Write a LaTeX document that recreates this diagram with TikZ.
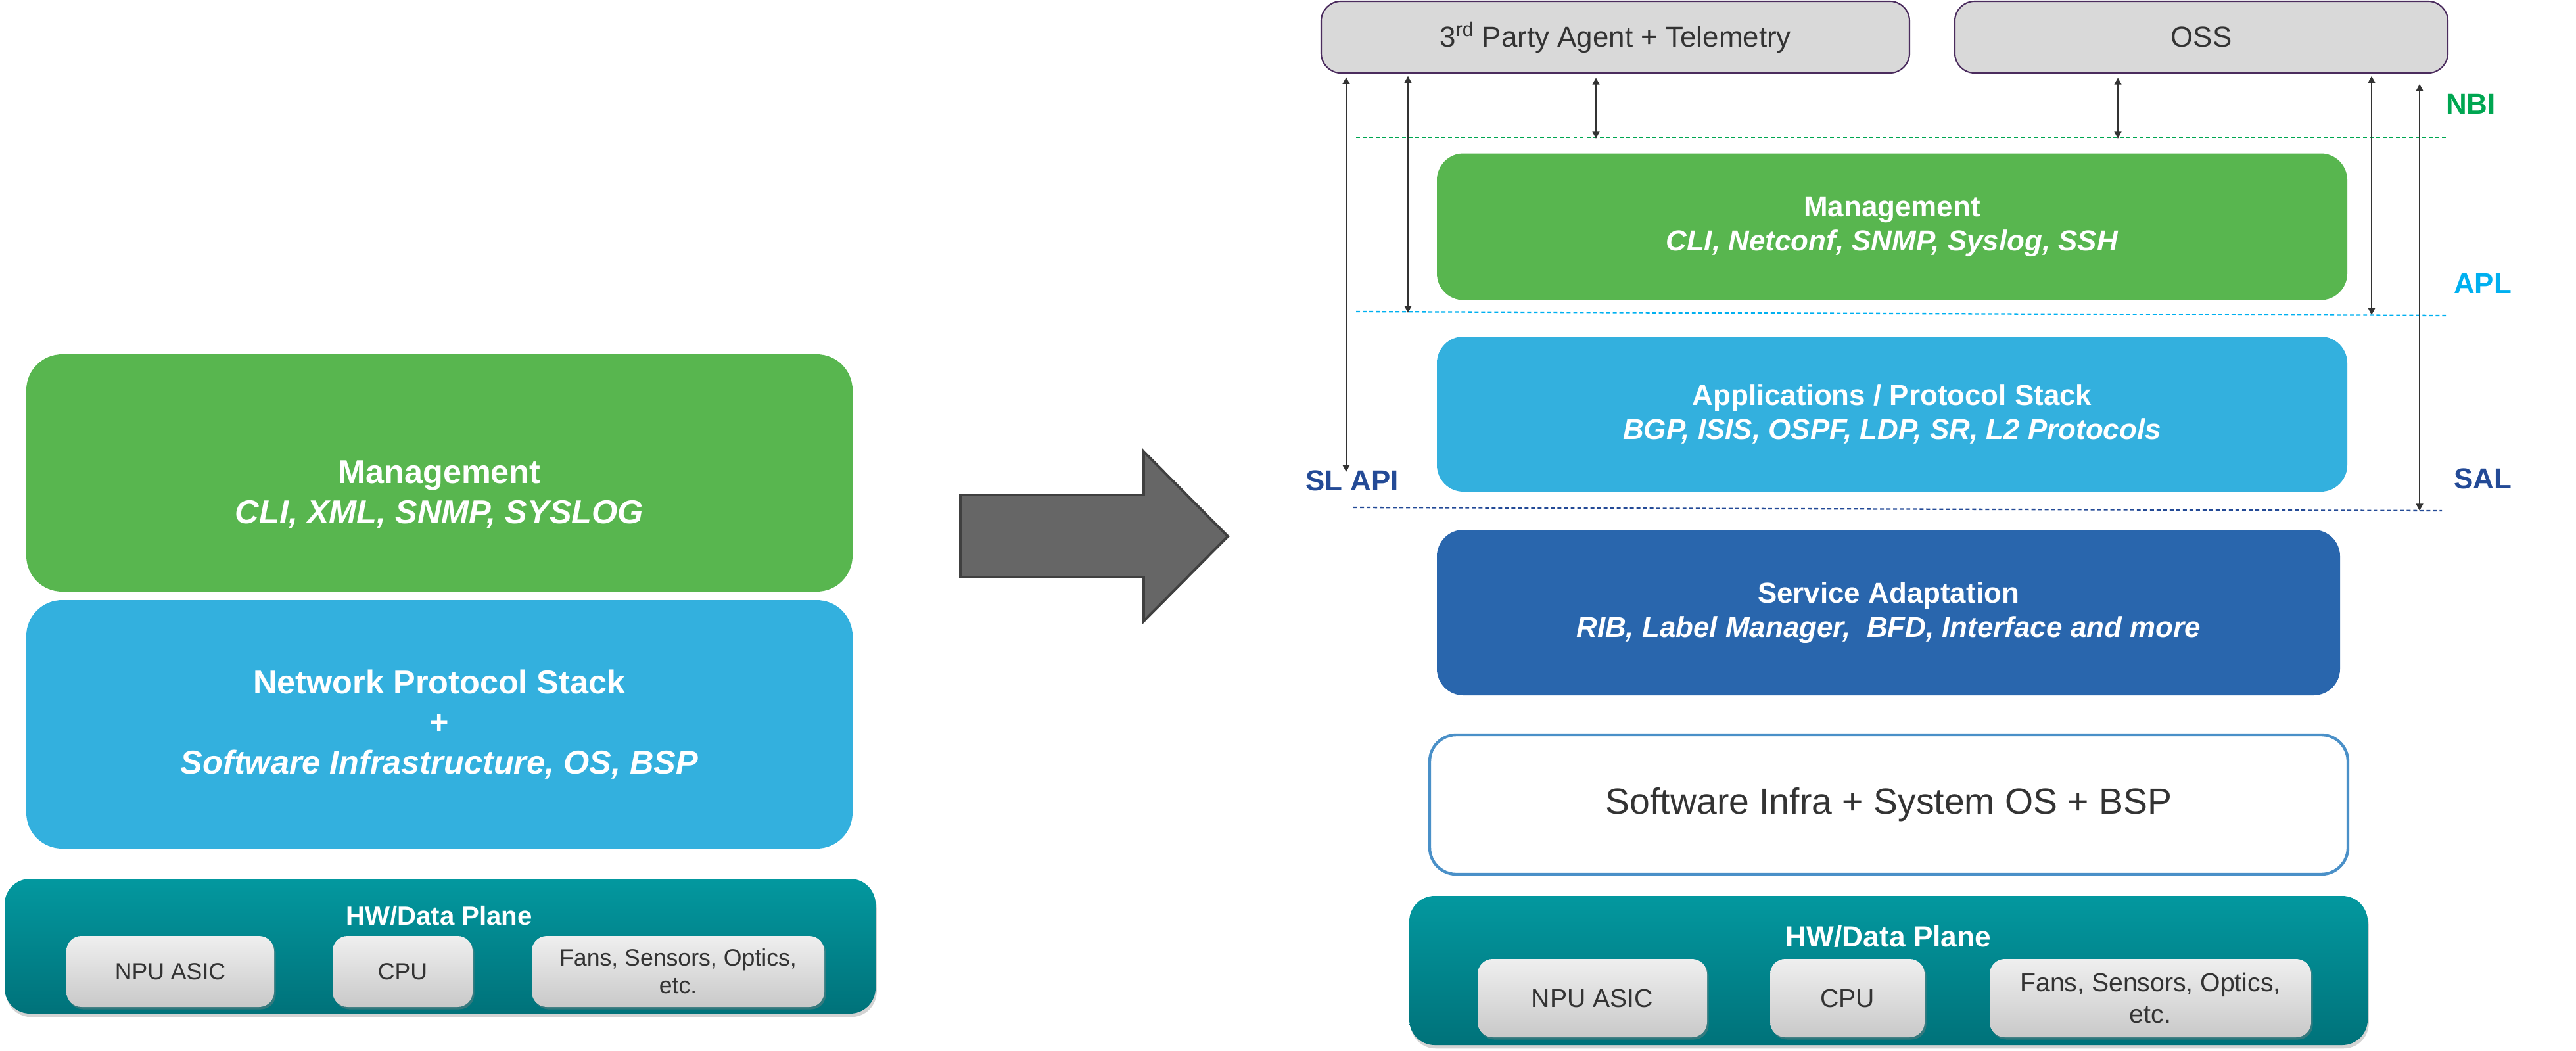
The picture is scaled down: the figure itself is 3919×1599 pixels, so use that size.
\documentclass[tikz,border=0pt]{standalone}
\usepackage{fontspec}
\setmainfont{Liberation Sans}
\usetikzlibrary{arrows.meta, shadows}

\begin{document}
\begin{tikzpicture}[
    x=0.02cm, y=-0.02cm,
    every node/.style={inner sep=0pt},
]

% ---------------------------------------------------------------- colours
\definecolor{mgmtgreen}{HTML}{58B64F}   % management layer
\definecolor{stackblue}{HTML}{33B0DE}   % protocol stack layer
\definecolor{adaptblue}{HTML}{2966AD}   % service adaptation
\definecolor{tealtop}{HTML}{03989F}
\definecolor{tealbot}{HTML}{00727A}
\definecolor{chiptop}{HTML}{EFEFEF}
\definecolor{chipbot}{HTML}{C9C9C9}
\definecolor{clientgray}{HTML}{D9D9D9}
\definecolor{clientedge}{HTML}{4B2C5E}
\definecolor{infraedge}{HTML}{4A90C8}
\definecolor{nbigreen}{HTML}{00A651}
\definecolor{aplcyan}{HTML}{00B0F0}
\definecolor{saldark}{HTML}{234A96}
\definecolor{textdark}{HTML}{333333}
\definecolor{arrowgray}{HTML}{666666}
\definecolor{arrowedge}{HTML}{404040}

\tikzset{
    boxsize/.style 2 args={minimum width=#1*0.02cm, minimum height=#2*0.02cm},
    bigfont/.style={font=\fontsize{28.7}{34.6}\selectfont\bfseries},
    midfont/.style={font=\fontsize{25}{30}\selectfont\bfseries},
    layer/.style={align=center, text=white},
    hwplane/.style={rounded corners=22pt, top color=tealtop, bottom color=tealbot,
        text=white, drop shadow={opacity=0.35, shadow xshift=1pt, shadow yshift=-3pt}},
    chip/.style={rounded corners=13pt, top color=chiptop, bottom color=chipbot,
        text=textdark, align=center,
        drop shadow={opacity=0.4, shadow xshift=1.5pt, shadow yshift=-2pt}},
    client/.style={rounded corners=17pt, fill=clientgray, draw=clientedge,
        line width=1.2pt, text=textdark, font=\fontsize{25}{30}\selectfont},
    link/.style={{Triangle[length=6pt, width=6pt]}-{Triangle[length=6pt, width=6pt]},
        line width=1.4pt, textdark},
    level/.style={line width=1.3pt, dash pattern=on 3.4pt off 2.3pt},
    levellabel/.style={font=\fontsize{25}{30}\selectfont\bfseries},
    bigarrow/.style={fill=arrowgray, draw=arrowedge, line width=2.2pt},
}

\useasboundingbox (0,0) rectangle (3919,1599);

% ================================================================
% LEFT: monolithic stack
% ================================================================
\node[boxsize={1257}{361}, fill=mgmtgreen, rounded corners=31pt] (lmgmt)
    at (668.5,719.5) {};
\node[layer, bigfont] (lmgmtText) at ([yshift=-19pt]lmgmt.center)
    {Management\\\textit{CLI, XML, SNMP, SYSLOG}};
\node[layer, bigfont, boxsize={1257}{378}, fill=stackblue, rounded corners=31pt]
    (lstack) at (668.5,1102)
    {Network Protocol Stack\\+\\\textit{Software Infrastructure, OS, BSP}};

\node[hwplane, boxsize={1325}{205}] (lhw) at (669.5,1439.5) {};
\node[text=white, font=\fontsize{22.9}{27}\selectfont\bfseries] (lhwtitle)
    at (668,1393) {HW/Data Plane};
\node[chip, boxsize={316}{108}, font=\fontsize{20.3}{24}\selectfont] (lnpu)
    at (259,1478) {NPU ASIC};
\node[chip, boxsize={213}{108}, font=\fontsize{20.3}{24}\selectfont] (lcpu)
    at (612.5,1478) {CPU};
\node[chip, boxsize={445}{108}, font=\fontsize{20.3}{24}\selectfont] (lfans)
    at (1031.5,1478) {Fans, Sensors, Optics,\\etc.};

% ---------------------------------------------------------------- the big arrow
\draw[bigarrow] (1461,753) -- (1740,753) -- (1740,687) -- (1868,816)
    -- (1740,945) -- (1740,878) -- (1461,878) -- cycle;

% ================================================================
% RIGHT: layered stack with open interfaces
% ================================================================
\node[client, boxsize={895}{109}] (tpa) at (2457.5,56.5)
    {3\textsuperscript{rd} Party Agent + Telemetry};
\node[client, boxsize={750}{109}] (oss) at (3349,56.5) {OSS};

\node[layer, midfont, boxsize={1385}{223}, fill=mgmtgreen, rounded corners=23pt]
    (rmgmt) at (2878.5,345)
    {Management\\\textit{CLI, Netconf, SNMP, Syslog, SSH}};
\node[layer, midfont, boxsize={1385}{236}, fill=stackblue, rounded corners=23pt]
    (rapps) at (2878.5,630)
    {Applications / Protocol Stack\\\textit{BGP, ISIS, OSPF, LDP, SR, L2 Protocols}};
\node[layer, midfont, boxsize={1374}{252}, fill=adaptblue, rounded corners=23pt]
    (rsvc) at (2873,932)
    {Service Adaptation\\\textit{RIB, Label Manager,\ \ BFD, Interface and more}};
\node[boxsize={1397}{212}, draw=infraedge, line width=2.5pt, fill=white,
    rounded corners=23pt, text=textdark, font=\fontsize{31.5}{36}\selectfont]
    (rinfra) at (2873.5,1224) {Software Infra + System OS + BSP};

\node[hwplane, boxsize={1458}{227}] (rhw) at (2873,1476.5) {};
\node[text=white, font=\fontsize{25.2}{30}\selectfont\bfseries] (rhwtitle)
    at (2873,1425) {HW/Data Plane};
\node[chip, boxsize={349}{119}, font=\fontsize{22.3}{27}\selectfont] (rnpu)
    at (2422.5,1518.5) {NPU ASIC};
\node[chip, boxsize={235}{119}, font=\fontsize{22.3}{27}\selectfont] (rcpu)
    at (2810.5,1518.5) {CPU};
\node[chip, boxsize={489}{119}, font=\fontsize{22.3}{27}\selectfont] (rfans)
    at (3271.5,1518.5) {Fans, Sensors, Optics,\\etc.};

% ---------------------------------------------------------------- interface levels
\coordinate (nbiW) at (2063,209);
\coordinate (nbiE) at (3721,209);
\coordinate (aplW) at (2063,474);
\coordinate (aplE) at (3721,480);
\coordinate (salW) at (2059,772);
\coordinate (salE) at (3715,777);

\draw[level, nbigreen] (nbiW) -- (nbiE);
\draw[level, aplcyan] (aplW) -- (aplE);
\draw[level, saldark] (salW) -- (salE);

\node[levellabel, text=nbigreen] (nbi) at (3759,158) {NBI};
\node[levellabel, text=aplcyan] (apl) at (3777,431) {APL};
\node[levellabel, text=saldark] (sal) at (3777,728) {SAL};
\node[levellabel, text=saldark] (slapi) at (2057,731) {SL API};

% ---------------------------------------------------------------- arrow ends
\coordinate (slEnd) at (2048,718);
\coordinate (tpaApl) at (2142,476);
\coordinate (tpaNbi) at (2428,211);
\coordinate (ossNbi) at (3222,211);
\coordinate (ossApl) at (3608,479);
\coordinate (ossSal) at (3681,777);

\draw[link, shorten <=3pt] (tpa.south -| slEnd) -- (slEnd);
\draw[link, shorten <=2pt] (tpa.south -| tpaApl) -- (tpaApl);
\draw[link, shorten <=3.5pt] (tpa.south -| tpaNbi) -- (tpaNbi);
\draw[link, shorten <=3.5pt] (oss.south -| ossNbi) -- (ossNbi);
\draw[link, shorten <=2pt] (oss.south -| ossApl) -- (ossApl);
\draw[link, shorten <=9pt] (oss.south -| ossSal) -- (ossSal);

\end{tikzpicture}
\end{document}
